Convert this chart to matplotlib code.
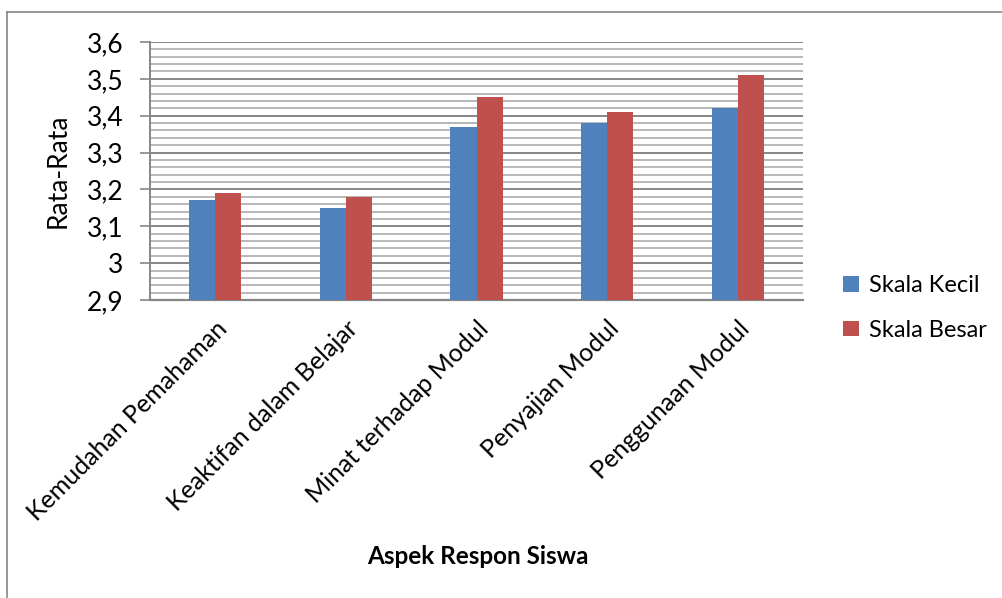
import matplotlib.pyplot as plt
import numpy as np
from matplotlib.lines import Line2D

aspek = ["Kemudahan Pemahaman", "Keaktifan dalam Belajar", "Minat terhadap Modul",
         "Penyajian Modul", "Penggunaan Modul"]
skala_kecil = [3.17, 3.15, 3.37, 3.38, 3.42]
skala_besar = [3.19, 3.18, 3.45, 3.41, 3.51]
y_ticks = [2.9, 3.0, 3.1, 3.2, 3.3, 3.4, 3.5, 3.6]
y_labels = ["2,9", "3", "3,1", "3,2", "3,3", "3,4", "3,5", "3,6"]

plt.rcParams['font.family'] = ['Lato', 'DejaVu Sans']

fig = plt.figure(figsize=(10.03, 5.98), dpi=100)
ax = fig.add_axes([150 / 1003, 1 - 300 / 598, 653 / 1003, 258 / 598])

x = np.arange(len(aspek))
w = 0.2
ax.bar(x - w / 2, skala_kecil, w, color="#4F81BD", label="Skala Kecil", zorder=3)
ax.bar(x + w / 2, skala_besar, w, color="#C0504D", label="Skala Besar", zorder=3)

ax.set_xlim(-0.5, len(aspek) - 0.5)
ax.set_ylim(2.9, 3.6)
ax.set_yticks(y_ticks)
ax.set_yticklabels(y_labels, fontsize=19)
ax.set_yticks(np.arange(2.92, 3.6, 0.02), minor=True)
ax.grid(axis="y", which="minor", color="#b8b8b8", linewidth=1.4, zorder=0)
ax.grid(axis="y", which="major", color="#868686", linewidth=1.4, zorder=1)
ax.tick_params(axis="y", which="major", length=7, color="#868686", width=1.2, pad=12)
ax.tick_params(axis="y", which="minor", length=0)

ax.set_xticks(x)
ax.set_xticklabels(aspek, rotation=45, ha="right", rotation_mode="anchor", fontsize=18)
ax.tick_params(axis="x", length=0, pad=12)

for s in ["top", "right"]:
    ax.spines[s].set_visible(False)
ax.spines["left"].set_color("#868686")
ax.spines["bottom"].set_color("#868686")
ax.spines["left"].set_linewidth(1.4)
ax.spines["bottom"].set_linewidth(1.6)

ax.set_ylabel("Rata-Rata", fontsize=19, labelpad=12)
fig.text(478 / 1003, 1 - 557 / 598, "Aspek Respon Siswa", fontsize=17.5,
         fontweight="bold", ha="center", va="center")

ax.legend(loc="center left", bbox_to_anchor=(822 / 1003, 1 - 308 / 598),
          bbox_transform=fig.transFigure, frameon=False, fontsize=17,
          handlelength=0.65, handleheight=0.65, handletextpad=0.45, labelspacing=1.0)

# outer chart border
fig.add_artist(Line2D([7 / 1003, 7 / 1003], [0, 1 - 12 / 598], color="#868686", lw=1.2))
fig.add_artist(Line2D([7 / 1003, 1], [1 - 12 / 598, 1 - 12 / 598], color="#868686", lw=1.2))

fig.savefig("out.png", dpi=100)
